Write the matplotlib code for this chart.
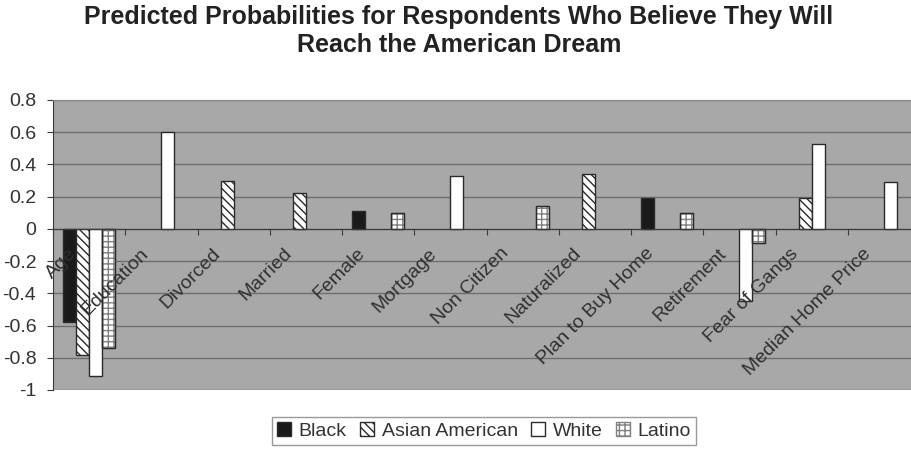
import numpy as np
import matplotlib
matplotlib.use('Agg')
import matplotlib.pyplot as plt
from matplotlib import transforms

plt.rcParams['font.family'] = ['Liberation Sans', 'DejaVu Sans']

categories = ['Age', 'Education', 'Divorced', 'Married', 'Female', 'Mortgage',
              'Non Citizen', 'Naturalized', 'Plan to Buy Home', 'Retirement',
              'Fear of Gangs', 'Median Home Price']
nan = np.nan
black = [-0.58, nan, nan, nan, 0.11, nan, nan, nan, 0.19, nan, nan, nan]
asian = [-0.78, nan, 0.30, 0.22, nan, nan, nan, 0.34, nan, nan, 0.19, nan]
white = [-0.91, 0.60, nan, nan, nan, 0.33, nan, nan, nan, -0.45, 0.53, 0.29]
latino = [-0.74, nan, nan, nan, 0.10, nan, 0.14, nan, 0.10, -0.09, nan, nan]
series_names = ['Black', 'Asian American', 'White', 'Latino']
yticks = [0.8, 0.6, 0.4, 0.2, 0, -0.2, -0.4, -0.6, -0.8, -1]
ytick_labels = ['0.8', '0.6', '0.4', '0.2', '0', '-0.2', '-0.4', '-0.6', '-0.8', '-1']

fig = plt.figure(figsize=(9.11, 4.49), dpi=100)
ax = fig.add_axes([53 / 911, 59 / 449, 867 / 911, 290 / 449])
ax.set_facecolor('#a8a8a8')

bar_w = 0.18
x = np.arange(len(categories))
styles = [
    dict(color='#1a1a1a', edgecolor='#2a2a2a', hatch=None),
    dict(color='white', edgecolor='#2a2a2a', hatch='\\\\\\\\'),
    dict(color='white', edgecolor='#2a2a2a', hatch=None),
    dict(color='white', edgecolor='#808080', hatch='+++'),
]

handles = []
for j, vals in enumerate([black, asian, white, latino]):
    v = np.array(vals)
    m = ~np.isnan(v)
    pos = x[m] + 0.14 + bar_w * (j + 0.5)
    st = styles[j]
    b = ax.bar(pos, v[m], width=bar_w, color=st['color'], edgecolor=st['edgecolor'],
               hatch=st['hatch'], linewidth=1.0, zorder=3, label=series_names[j])
    if j == 3:
        # darker outline over the grey grid pattern
        ax.bar(pos, v[m], width=bar_w, fill=False, edgecolor='#2a2a2a',
               linewidth=1.0, zorder=4)
    handles.append(b)

ax.set_xlim(0, 12)
ax.set_ylim(-1, 0.8)
ax.set_yticks(yticks)
ax.set_yticklabels(ytick_labels)
ax.yaxis.grid(True, color='#6e6e6e', linewidth=1.0)
ax.set_axisbelow(True)

ax.spines['bottom'].set_position(('data', 0))
ax.spines['bottom'].set_color('#3a3a3a')
ax.spines['bottom'].set_zorder(5)
ax.spines['left'].set_color('#3a3a3a')
ax.spines['right'].set_visible(False)
ax.spines['top'].set_color('#8a8a8a')

ax.set_xticks(np.arange(0, 13))
ax.set_xticklabels([])
ax.tick_params(axis='x', direction='out', length=4, color='#3a3a3a')
ax.tick_params(axis='y', direction='out', length=4, color='#3a3a3a',
               labelsize=14, labelcolor='#333333', pad=8)

lab_tr = transforms.offset_copy(ax.transData, fig=fig, x=-22, y=-16, units='dots')
for i, name in enumerate(categories):
    ax.text(i + 0.5, 0, name, transform=lab_tr, rotation=45, rotation_mode='anchor',
            ha='right', va='top', fontsize=14, color='#303030', zorder=6)

fig.text(459 / 911, 1 - 31 / 449,
         'Predicted Probabilities for Respondents Who Believe They Will\nReach the American Dream',
         ha='center', va='center', fontsize=18, fontweight='bold', color='#222222',
         linespacing=1.2)

leg = fig.legend(handles=handles, labels=series_names, loc='center',
                 bbox_to_anchor=(484 / 911, 1 - 431 / 449), ncol=4, fontsize=14,
                 frameon=True, fancybox=False, edgecolor='#808080',
                 handlelength=0.7, handleheight=0.7, handletextpad=0.4,
                 columnspacing=0.7, borderpad=0.25, labelcolor='#333333')
leg.get_frame().set_linewidth(1.0)

fig.savefig('out.png', dpi=100, facecolor='white')
